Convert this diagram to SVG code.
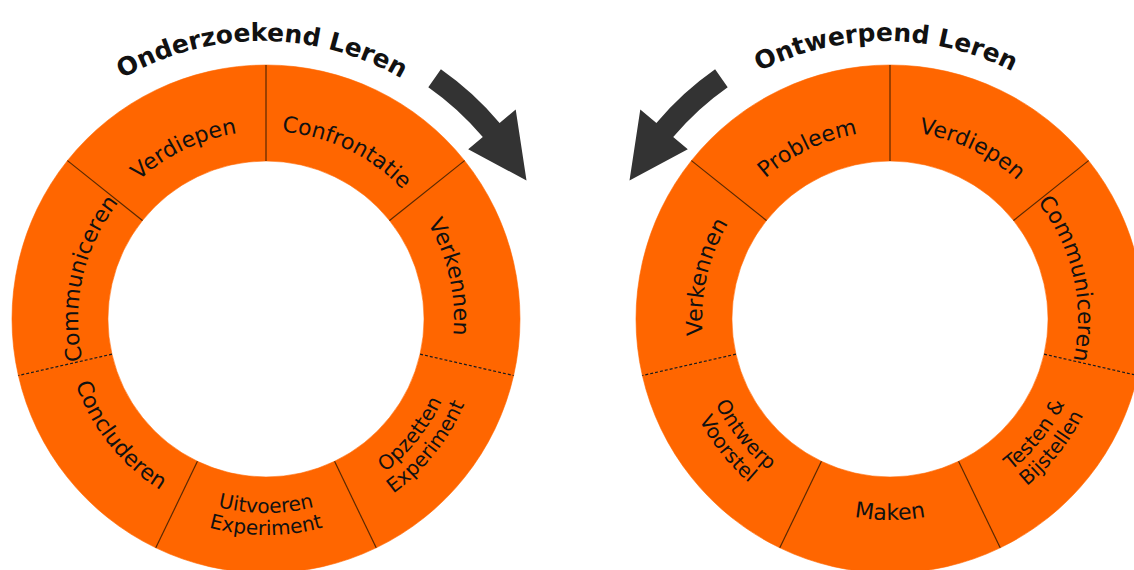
<svg xmlns="http://www.w3.org/2000/svg" xmlns:xlink="http://www.w3.org/1999/xlink" width="1134" height="570" viewBox="0 0 1134 570">
<style>
.seg{fill:#FF6600;stroke:#FF6600;stroke-width:0.6}
.lbl{font-family:"DejaVu Sans","Liberation Sans",sans-serif;font-size:22px;fill:#111}
.lbl2{font-family:"DejaVu Sans","Liberation Sans",sans-serif;font-size:20px;fill:#111}
.ttl{font-family:"DejaVu Sans","Liberation Sans",sans-serif;font-size:25px;font-weight:bold;fill:#111}
.div{stroke:#5a2800;stroke-width:1.2;fill:none}
.dash{stroke:#1a1a1a;stroke-width:1.2;stroke-dasharray:3 2;fill:none}
.arrow{fill:#333333}
</style>
<defs>
<path id="s0" d="M 0,-254 A 254 254 0 0 1 198.59,-158.37 L 123.53,-98.51 A 158 158 0 0 0 0,-158 Z"/>
<path id="s1" d="M 198.59,-158.37 A 254 254 0 0 1 247.63,56.52 L 154.04,35.16 A 158 158 0 0 0 123.53,-98.51 Z"/>
<path id="s2" d="M 247.63,56.52 A 254 254 0 0 1 110.21,228.85 L 68.55,142.35 A 158 158 0 0 0 154.04,35.16 Z"/>
<path id="s3" d="M 110.21,228.85 A 254 254 0 0 1 -110.21,228.85 L -68.55,142.35 A 158 158 0 0 0 68.55,142.35 Z"/>
<path id="s4" d="M -110.21,228.85 A 254 254 0 0 1 -247.63,56.52 L -154.04,35.16 A 158 158 0 0 0 -68.55,142.35 Z"/>
<path id="s5" d="M -247.63,56.52 A 254 254 0 0 1 -198.59,-158.37 L -123.53,-98.51 A 158 158 0 0 0 -154.04,35.16 Z"/>
<path id="s6" d="M -198.59,-158.37 A 254 254 0 0 1 0,-254 L 0,-158 A 158 158 0 0 0 -123.53,-98.51 Z"/>
<path id="c0" d="M -62.09,-177.45 A 188 188 0 0 1 177.45,-62.09"/>
<path id="c1" d="M 100.02,-159.18 A 188 188 0 0 1 159.18,100.02"/>
<path id="c5" d="M -159.18,100.02 A 188 188 0 0 1 -100.02,-159.18"/>
<path id="c6" d="M -177.45,-62.09 A 188 188 0 0 1 62.09,-177.45"/>
<path id="b3" d="M -142.13,142.13 A 201 201 0 0 0 142.13,142.13"/>
<path id="b4" d="M -199.74,-22.50 A 201 201 0 0 0 -22.50,199.74"/>
<path id="b2i" d="M 21.72,192.78 A 194 194 0 0 0 192.78,-21.72"/>
<path id="b2o" d="M 24.18,214.64 A 216 216 0 0 0 214.64,-24.18"/>
<path id="b3i" d="M -137.18,137.18 A 194 194 0 0 0 137.18,137.18"/>
<path id="b3o" d="M -152.74,152.74 A 216 216 0 0 0 152.74,152.74"/>
<path id="b4i" d="M -192.78,-21.72 A 194 194 0 0 0 -21.72,192.78"/>
<path id="b4o" d="M -214.64,-24.18 A 216 216 0 0 0 -24.18,214.64"/>
<path id="t" d="M -240.76,-139 A 278 278 0 0 1 240.76,-139"/>
</defs>
<rect width="1134" height="570" fill="#ffffff"/>

<g id="title-onderzoekend" transform="translate(262,319)">
<text class="ttl" text-anchor="middle"><textPath href="#t" startOffset="50%">Onderzoekend Leren</textPath></text>
</g>
<g id="title-ontwerpend" transform="translate(886,319)">
<text class="ttl" text-anchor="middle"><textPath href="#t" startOffset="50%">Ontwerpend Leren</textPath></text>
</g>

<!-- Onderzoekend Leren ring -->
<g id="oz-confrontatie" transform="translate(266,319)">
<use href="#s0" class="seg"/>
<text class="lbl" text-anchor="middle"><textPath href="#c0" startOffset="50%">Confrontatie</textPath></text>
</g>
<g id="oz-verkennen" transform="translate(266,319)">
<use href="#s1" class="seg"/>
<text class="lbl" text-anchor="middle"><textPath href="#c1" startOffset="50%">Verkennen</textPath></text>
</g>
<g id="oz-opzetten-experiment" transform="translate(266,319)">
<use href="#s2" class="seg"/>
<text class="lbl2" text-anchor="middle"><textPath href="#b2i" startOffset="50%">Opzetten</textPath></text>
<text class="lbl2" text-anchor="middle"><textPath href="#b2o" startOffset="50%">Experiment</textPath></text>
</g>
<g id="oz-uitvoeren-experiment" transform="translate(266,319)">
<use href="#s3" class="seg"/>
<text class="lbl2" text-anchor="middle"><textPath href="#b3i" startOffset="50%">Uitvoeren</textPath></text>
<text class="lbl2" text-anchor="middle"><textPath href="#b3o" startOffset="50%">Experiment</textPath></text>
</g>
<g id="oz-concluderen" transform="translate(266,319)">
<use href="#s4" class="seg"/>
<text class="lbl" text-anchor="middle"><textPath href="#b4" startOffset="50%">Concluderen</textPath></text>
</g>
<g id="oz-communiceren" transform="translate(266,319)">
<use href="#s5" class="seg"/>
<text class="lbl" text-anchor="middle"><textPath href="#c5" startOffset="50%">Communiceren</textPath></text>
</g>
<g id="oz-verdiepen" transform="translate(266,319)">
<use href="#s6" class="seg"/>
<text class="lbl" text-anchor="middle"><textPath href="#c6" startOffset="50%">Verdiepen</textPath></text>
</g>
<g id="oz-dividers" transform="translate(266,319)">
<line class="div" x1="0" y1="-158" x2="0" y2="-254"/>
<line class="div" x1="123.53" y1="-98.51" x2="198.59" y2="-158.37"/>
<line class="dash" x1="154.04" y1="35.16" x2="247.63" y2="56.52"/>
<line class="div" x1="68.55" y1="142.35" x2="110.21" y2="228.85"/>
<line class="div" x1="-68.55" y1="142.35" x2="-110.21" y2="228.85"/>
<line class="dash" x1="-154.04" y1="35.16" x2="-247.63" y2="56.52"/>
<line class="div" x1="-123.53" y1="-98.51" x2="-198.59" y2="-158.37"/>
</g>

<!-- Ontwerpend Leren ring -->
<g id="ow-verdiepen" transform="translate(890,319)">
<use href="#s0" class="seg"/>
<text class="lbl" text-anchor="middle"><textPath href="#c0" startOffset="50%">Verdiepen</textPath></text>
</g>
<g id="ow-communiceren" transform="translate(890,319)">
<use href="#s1" class="seg"/>
<text class="lbl" text-anchor="middle"><textPath href="#c1" startOffset="50%">Communiceren</textPath></text>
</g>
<g id="ow-testen-bijstellen" transform="translate(890,319)">
<use href="#s2" class="seg"/>
<text class="lbl2" text-anchor="middle"><textPath href="#b2i" startOffset="50%">Testen &amp;</textPath></text>
<text class="lbl2" text-anchor="middle"><textPath href="#b2o" startOffset="50%">Bijstellen</textPath></text>
</g>
<g id="ow-maken" transform="translate(890,319)">
<use href="#s3" class="seg"/>
<text class="lbl" text-anchor="middle"><textPath href="#b3" startOffset="50%">Maken</textPath></text>
</g>
<g id="ow-ontwerp-voorstel" transform="translate(890,319)">
<use href="#s4" class="seg"/>
<text class="lbl2" text-anchor="middle"><textPath href="#b4i" startOffset="50%">Ontwerp</textPath></text>
<text class="lbl2" text-anchor="middle"><textPath href="#b4o" startOffset="50%">Voorstel</textPath></text>
</g>
<g id="ow-verkennen" transform="translate(890,319)">
<use href="#s5" class="seg"/>
<text class="lbl" text-anchor="middle"><textPath href="#c5" startOffset="50%">Verkennen</textPath></text>
</g>
<g id="ow-probleem" transform="translate(890,319)">
<use href="#s6" class="seg"/>
<text class="lbl" text-anchor="middle"><textPath href="#c6" startOffset="50%">Probleem</textPath></text>
</g>
<g id="ow-dividers" transform="translate(890,319)">
<line class="div" x1="0" y1="-158" x2="0" y2="-254"/>
<line class="div" x1="123.53" y1="-98.51" x2="198.59" y2="-158.37"/>
<line class="dash" x1="154.04" y1="35.16" x2="247.63" y2="56.52"/>
<line class="div" x1="68.55" y1="142.35" x2="110.21" y2="228.85"/>
<line class="div" x1="-68.55" y1="142.35" x2="-110.21" y2="228.85"/>
<line class="dash" x1="-154.04" y1="35.16" x2="-247.63" y2="56.52"/>
<line class="div" x1="-123.53" y1="-98.51" x2="-198.59" y2="-158.37"/>
</g>

<g id="connectors">
<path class="arrow" d="M 440.9,69.2 A 305 305 0 0 1 499.6,122.9 L 515.7,109.5 L 526.5,180.5 L 468.2,149.3 L 482.8,137.1 A 283 283 0 0 0 428.3,87.2 Z"/>
<path class="arrow" d="M 715.1,69.2 A 305 305 0 0 0 656.4,122.9 L 640.3,109.5 L 629.5,180.5 L 687.8,149.3 L 673.2,137.1 A 283 283 0 0 1 727.7,87.2 Z"/>
</g>
</svg>
